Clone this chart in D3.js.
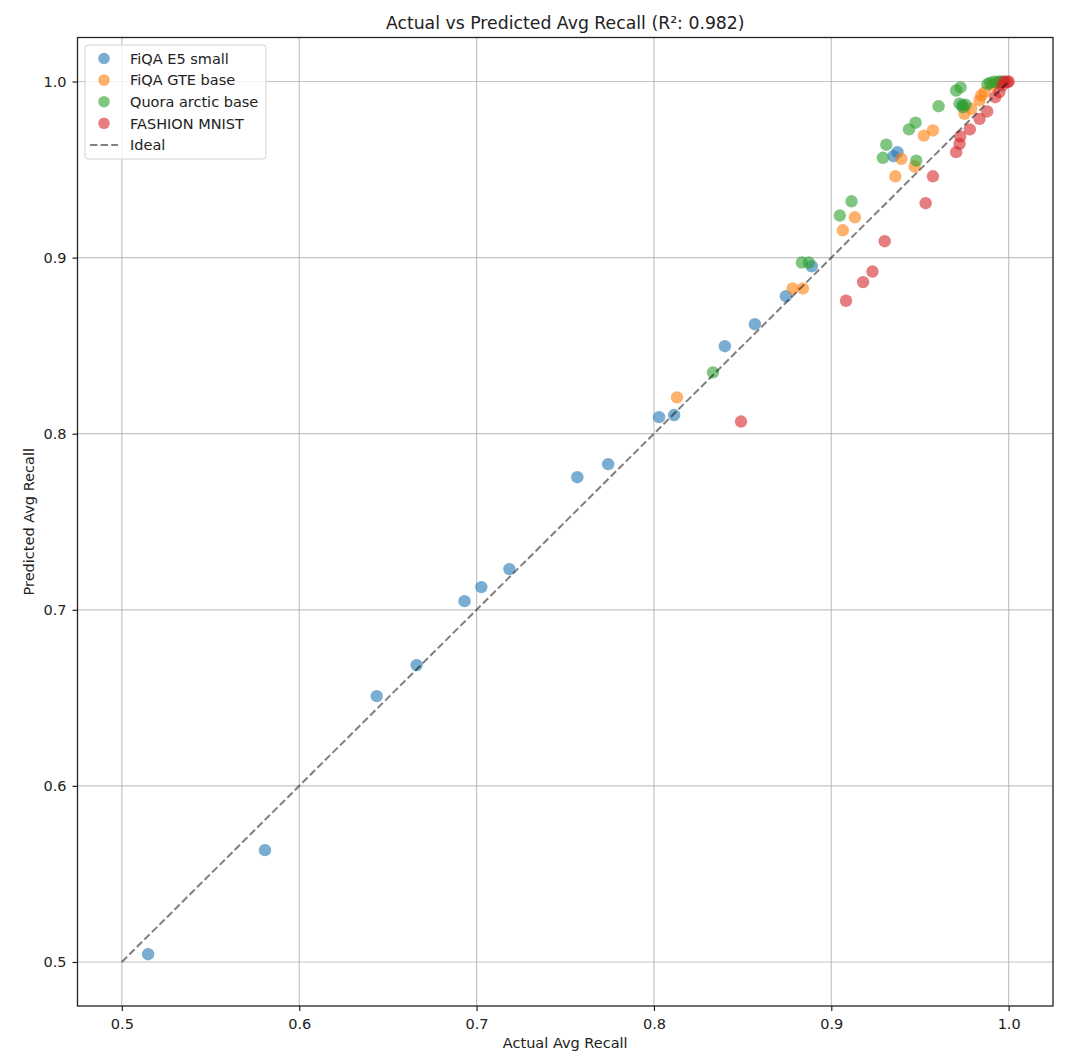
<!DOCTYPE html>
<html>
<head>
<meta charset="utf-8">
<script src="https://cdn.jsdelivr.net/npm/d3@7"></script>
<style>
  body { margin: 0; background: #fff; }
  text { font-family: "DejaVu Sans", sans-serif; fill: #222; }
</style>
</head>
<body>
<svg id="chart"></svg>
<script>
// series: [actual, predicted]
const fiqaE5 = [
  [0.5148, 0.5044], [0.5807, 0.5635], [0.6437, 0.6510], [0.6662, 0.6686],
  [0.6932, 0.7049], [0.7027, 0.7129], [0.7185, 0.7231], [0.7568, 0.7753],
  [0.7742, 0.7827], [0.8029, 0.8094], [0.8114, 0.8106], [0.8400, 0.8497],
  [0.8569, 0.8622], [0.8744, 0.8781], [0.8890, 0.8951], [0.9351, 0.9576],
  [0.9373, 0.9599], [0.9740, 0.9864], [0.9954, 0.9995], [0.9970, 0.9998]
]
const fiqaGte = [
  [0.8130, 0.8206], [0.8782, 0.8825], [0.8840, 0.8825], [0.9065, 0.9155],
  [0.9133, 0.9229], [0.9361, 0.9462], [0.9470, 0.9517], [0.9522, 0.9693],
  [0.9573, 0.9722], [0.9395, 0.9561], [0.9751, 0.9817], [0.9789, 0.9845],
  [0.9836, 0.9893], [0.9845, 0.9921], [0.9864, 0.9940], [0.9909, 0.9978],
  [0.9937, 0.9995]
]
const quoraArctic = [
  [0.8333, 0.8348], [0.8834, 0.8972], [0.8873, 0.8972], [0.9048, 0.9239],
  [0.9114, 0.9320], [0.9291, 0.9567], [0.9310, 0.9641], [0.9438, 0.9728],
  [0.9475, 0.9766], [0.9479, 0.9551], [0.9605, 0.9860], [0.9704, 0.9949],
  [0.9729, 0.9967], [0.9742, 0.9854], [0.9723, 0.9874], [0.9757, 0.9868],
  [0.9881, 0.9985], [0.9896, 0.9993], [0.9920, 0.9999], [0.9948, 1.0000]
]
const fashionMnist = [
  [0.8491, 0.8069], [0.9083, 0.8755], [0.9179, 0.8861], [0.9232, 0.8921],
  [0.9301, 0.9093], [0.9532, 0.9309], [0.9573, 0.9462], [0.9704, 0.9599],
  [0.9723, 0.9646], [0.9727, 0.9688], [0.9781, 0.9728], [0.9836, 0.9788],
  [0.9879, 0.9830], [0.9924, 0.9911], [0.9948, 0.9940], [0.9965, 0.9978],
  [0.9976, 1.0000], [0.9993, 0.9997], [1.0000, 1.0000]
]
const seriesNames = ["FiQA E5 small", "FiQA GTE base", "Quora arctic base", "FASHION MNIST"]
const seriesColors = ["#1f77b4", "#ff7f0e", "#2ca02c", "#d62728"]
const idealLine = [[0.5, 0.5], [1.0, 1.0]]
const tickValues = [0.5, 0.6, 0.7, 0.8, 0.9, 1.0]
const r2Label = "0.982"

const width = 1080
const height = 1064
const margin = { top: 37.5, right: 27, bottom: 58, left: 77.5 }

const svg = d3.select("#chart").attr("width", width).attr("height", height)

const x = d3.scaleLinear().domain([0.475, 1.025]).range([margin.left, width - margin.right])
const y = d3.scaleLinear().domain([0.475, 1.025]).range([height - margin.bottom, margin.top])

// grid
const grid = svg.append("g").attr("class", "grid")
tickValues.forEach((t) => {
  grid.append("line")
    .attr("x1", x(t)).attr("x2", x(t))
    .attr("y1", margin.top).attr("y2", height - margin.bottom)
    .attr("stroke", "#b0b0b0").attr("stroke-opacity", 0.75).attr("stroke-width", 1.2)
  grid.append("line")
    .attr("y1", y(t)).attr("y2", y(t))
    .attr("x1", margin.left).attr("x2", width - margin.right)
    .attr("stroke", "#b0b0b0").attr("stroke-opacity", 0.75).attr("stroke-width", 1.2)
})

// axes
const xAxis = svg.append("g")
  .attr("transform", `translate(0,${height - margin.bottom})`)
  .call(d3.axisBottom(x).tickValues(tickValues).tickFormat(d3.format(".1f")).tickSize(5).tickSizeOuter(0))
const yAxis = svg.append("g")
  .attr("transform", `translate(${margin.left},0)`)
  .call(d3.axisLeft(y).tickValues(tickValues).tickFormat(d3.format(".1f")).tickSize(5).tickSizeOuter(0))
;[xAxis, yAxis].forEach((ax) => {
  ax.select(".domain").remove()
  ax.selectAll(".tick line").attr("stroke", "#222").attr("stroke-width", 1.2)
  ax.selectAll(".tick text").style("font-size", "14.5px").style("font-family", "DejaVu Sans, sans-serif").attr("fill", "#222")
})
xAxis.selectAll(".tick text").attr("y", 9).attr("dy", "0.95em")
yAxis.selectAll(".tick text").attr("x", -11)

// scatter
const allSeries = [fiqaE5, fiqaGte, quoraArctic, fashionMnist]
allSeries.forEach((pts, i) => {
  svg.append("g").selectAll("circle")
    .data(pts)
    .join("circle")
    .attr("cx", (d) => x(d[0]))
    .attr("cy", (d) => y(d[1]))
    .attr("r", 6.2)
    .attr("fill", seriesColors[i])
    .attr("fill-opacity", 0.6)
})

// ideal line
svg.append("path")
  .attr("d", d3.line().x((d) => x(d[0])).y((d) => y(d[1]))(idealLine))
  .attr("stroke", "#000").attr("stroke-opacity", 0.5)
  .attr("stroke-width", 2).attr("stroke-dasharray", "7.4,3.2")
  .attr("fill", "none")

// frame
svg.append("rect")
  .attr("x", margin.left).attr("y", margin.top)
  .attr("width", width - margin.left - margin.right)
  .attr("height", height - margin.top - margin.bottom)
  .attr("fill", "none").attr("stroke", "#222").attr("stroke-width", 1.3)

// title + labels
const cx = (margin.left + width - margin.right) / 2
svg.append("text").attr("x", cx).attr("y", 29).attr("text-anchor", "middle")
  .style("font-size", "17.3px").text(`Actual vs Predicted Avg Recall (R²: ${r2Label})`)
svg.append("text").attr("x", cx).attr("y", 1048).attr("text-anchor", "middle")
  .style("font-size", "14.5px").text("Actual Avg Recall")
svg.append("text")
  .attr("transform", `translate(34,${(margin.top + height - margin.bottom) / 2}) rotate(-90)`)
  .attr("text-anchor", "middle").style("font-size", "14.5px").text("Predicted Avg Recall")

// legend
const legend = svg.append("g").attr("transform", "translate(85,45)")
legend.append("rect")
  .attr("width", 181).attr("height", 114).attr("rx", 3)
  .attr("fill", "#fff").attr("fill-opacity", 0.8)
  .attr("stroke", "#d0d0d0")
seriesNames.forEach((name, i) => {
  const ly = 13.5 + i * 21.6
  legend.append("circle").attr("cx", 19).attr("cy", ly).attr("r", 5.8)
    .attr("fill", seriesColors[i]).attr("fill-opacity", 0.6)
  legend.append("text").attr("x", 45).attr("y", ly + 5.2).style("font-size", "14.5px").text(name)
})
const idealY = 13.5 + 4 * 21.6
legend.append("line").attr("x1", 5).attr("x2", 33).attr("y1", idealY).attr("y2", idealY)
  .attr("stroke", "#000").attr("stroke-opacity", 0.5).attr("stroke-width", 2)
  .attr("stroke-dasharray", "7.4,3.2")
legend.append("text").attr("x", 45).attr("y", idealY + 5.2).style("font-size", "14.5px").text("Ideal")
</script>
</body>
</html>
